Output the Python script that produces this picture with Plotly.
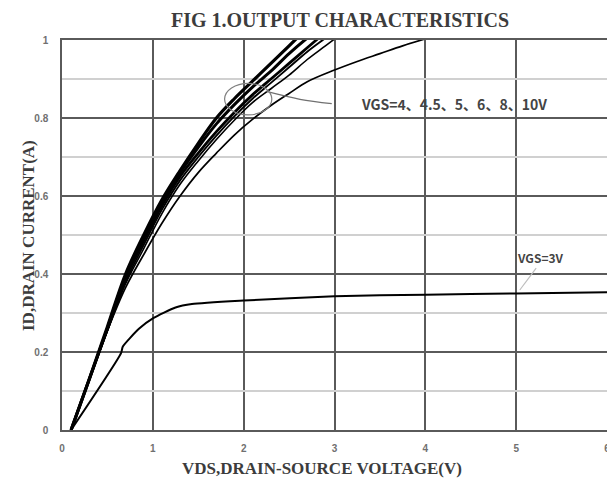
import plotly.graph_objects as go

# ---------------- data ----------------
# Family of curves VGS = 4.5 ... 10 V  (ID in A at VDS in V)
GROUP_X = [0.1, 0.3, 0.5, 0.7, 0.9, 1.1, 1.3, 1.5, 1.7, 1.9, 2.1, 2.3, 2.5, 2.7, 2.9, 3.1]
ID_10 = [0.0, 0.13, 0.265, 0.40, 0.50, 0.59, 0.665, 0.735, 0.80, 0.85, 0.895, 0.94, 0.985, 1.03, 1.07, 1.11]
ID_8 = [0.0, 0.13, 0.26, 0.395, 0.495, 0.585, 0.66, 0.725, 0.785, 0.835, 0.88, 0.92, 0.965, 1.005, 1.04, 1.08]
ID_6 = [0.0, 0.13, 0.26, 0.39, 0.485, 0.575, 0.65, 0.71, 0.765, 0.815, 0.86, 0.90, 0.94, 0.98, 1.02, 1.06]
ID_5 = [0.0, 0.13, 0.255, 0.38, 0.475, 0.565, 0.64, 0.70, 0.755, 0.805, 0.85, 0.89, 0.93, 0.97, 1.005, 1.04]
ID_45 = [0.0, 0.13, 0.255, 0.375, 0.465, 0.555, 0.63, 0.69, 0.745, 0.795, 0.84, 0.875, 0.91, 0.95, 0.985, 1.02]

# VGS = 4 V
VDS_4 = [0.1, 0.3, 0.5, 0.7, 0.9, 1.1, 1.3, 1.5, 1.7, 1.9, 2.1, 2.3, 2.5, 2.7, 3.0, 3.25, 3.5, 3.75, 4.0]
ID_4 = [0.0, 0.13, 0.255, 0.365, 0.45, 0.53, 0.60, 0.66, 0.71, 0.757, 0.797, 0.832, 0.863, 0.893, 0.923, 0.945, 0.965, 0.985, 1.003]

# VGS = 3 V
VDS_3 = [0.10, 0.65, 0.67, 0.85, 1.00, 1.25, 1.43, 2.00, 3.00, 4.00, 5.00, 6.00]
ID_3 = [0.0, 0.197, 0.214, 0.260, 0.286, 0.314, 0.323, 0.332, 0.343, 0.347, 0.350, 0.353]

X_TICKS = [0, 1, 2, 3, 4, 5, 6]
Y_TICKS = [0, 0.2, 0.4, 0.6, 0.8, 1]
Y_TICK_TEXT = ["0", "0.2", "0.4", "0.6", "0.8", "1"]
Y_MINOR = [0.1, 0.3, 0.5, 0.7, 0.9]

TITLE = "FIG 1.OUTPUT CHARACTERISTICS"
X_TITLE = "VDS,DRAIN-SOURCE VOLTAGE(V)"
Y_TITLE = "ID,DRAIN CURRENT(A)"
LABEL_GROUP = "VGS=4、4.5、5、6、8、10V"
LABEL_3 = "VGS=3V"

# callout geometry (data units)
ELLIPSE = dict(x0=1.79, x1=2.31, y0=0.808, y1=0.889)
LEADER_GROUP_X = [2.25, 2.62, 2.97]
LEADER_GROUP_Y = [0.868, 0.848, 0.837]
LEADER_3_X = [5.04, 5.22]
LEADER_3_Y = [0.359, 0.415]

# ---------------- figure ----------------
fig = go.Figure()

GRID_DARK = "#5a5a5a"
GRID_LIGHT = "#d0d0d0"

for yv in Y_MINOR:
    fig.add_trace(go.Scatter(x=[0, 6], y=[yv, yv], mode="lines",
                             line=dict(color=GRID_LIGHT, width=2),
                             hoverinfo="skip", showlegend=False))

group = [(ID_45, 1.6), (ID_5, 1.9), (ID_6, 2.8), (ID_8, 3.0), (ID_10, 3.2)]
for ys, w in group:
    fig.add_trace(go.Scatter(x=GROUP_X, y=ys, mode="lines",
                             line=dict(color="black", width=w, shape="spline", smoothing=1.0),
                             showlegend=False))

fig.add_trace(go.Scatter(x=VDS_4, y=ID_4, mode="lines",
                         line=dict(color="black", width=1.7, shape="spline", smoothing=1.0),
                         showlegend=False))
fig.add_trace(go.Scatter(x=VDS_3, y=ID_3, mode="lines",
                         line=dict(color="black", width=2, shape="spline", smoothing=0.6),
                         showlegend=False))

fig.add_trace(go.Scatter(x=LEADER_GROUP_X, y=LEADER_GROUP_Y, mode="lines",
                         line=dict(color="#707070", width=1.3, shape="spline"),
                         showlegend=False))
fig.add_trace(go.Scatter(x=LEADER_3_X, y=LEADER_3_Y, mode="lines",
                         line=dict(color="#bdbdbd", width=1.2),
                         showlegend=False))

fig.add_shape(type="circle", xref="x", yref="y", line=dict(color="#808080", width=1.2),
              **ELLIPSE)

LABEL_FONT = "Noto Sans CJK SC, Noto Sans, sans-serif"
fig.add_annotation(x=3.27, y=0.837, xref="x", yref="y", text=LABEL_GROUP,
                   showarrow=False, xanchor="left", yanchor="middle",
                   font=dict(family=LABEL_FONT, size=14, color="#444444", weight="bold"))
fig.add_annotation(x=4.99, y=0.443, xref="x", yref="y", text=LABEL_3,
                   showarrow=False, xanchor="left", yanchor="middle",
                   font=dict(family=LABEL_FONT, size=12, color="#444444", weight="bold"))

# plot-area pixel geometry in the page (page has an 8px body offset and
# content past x=607 is not shown)
PX_L, PX_R, PX_T, PX_B = 62, 607, 40, 430
PW, PH = PX_R - PX_L, PX_B - PX_T

SERIF = "Liberation Serif, Times New Roman, serif"
fig.add_annotation(x=(340 - PX_L) / PW, y=(PX_B - 19.6) / PH, xref="paper", yref="paper",
                   text="<b>" + TITLE + "</b>", showarrow=False,
                   xanchor="center", yanchor="middle",
                   font=dict(family=SERIF, size=20, color="#3c3c3c"))
fig.add_annotation(x=(322 - PX_L) / PW, y=(PX_B - 468) / PH, xref="paper", yref="paper",
                   text="<b>" + X_TITLE + "</b>", showarrow=False,
                   xanchor="center", yanchor="middle",
                   font=dict(family=SERIF, size=17, color="#3c3c3c"))
fig.add_annotation(x=(28 - PX_L) / PW, y=(PX_B - 236) / PH, xref="paper", yref="paper",
                   text="<b>" + Y_TITLE + "</b>", showarrow=False, textangle=-90,
                   xanchor="center", yanchor="middle",
                   font=dict(family=SERIF, size=17, color="#3c3c3c"))

TICK_FONT = dict(family="Liberation Sans, Arial, sans-serif", size=10, color="#707070", weight="bold")

fig.update_xaxes(range=[0, 6], tickvals=X_TICKS, ticktext=[str(v) for v in X_TICKS],
                 showgrid=True, gridcolor=GRID_DARK, gridwidth=1.5,
                 showline=True, linecolor=GRID_DARK, linewidth=1.5, mirror=True,
                 zeroline=False, ticks="", tickfont=TICK_FONT, ticklabelstandoff=8,
                 fixedrange=True)
fig.update_yaxes(range=[0, 1], tickvals=Y_TICKS, ticktext=Y_TICK_TEXT,
                 showgrid=True, gridcolor=GRID_DARK, gridwidth=1.5,
                 showline=True, linecolor=GRID_DARK, linewidth=1.5, mirror=True,
                 zeroline=False, ticks="", tickfont=TICK_FONT, ticklabelstandoff=10,
                 fixedrange=True)

OFF = 8
W, H = 615 - OFF, 487 - 2 * OFF
fig.update_layout(width=W, height=H,
                  margin=dict(l=PX_L - OFF, r=OFF + W - PX_R, t=PX_T - OFF, b=OFF + H - PX_B,
                              autoexpand=False),
                  plot_bgcolor="white", paper_bgcolor="white",
                  showlegend=False)

fig.write_html("out.html")
